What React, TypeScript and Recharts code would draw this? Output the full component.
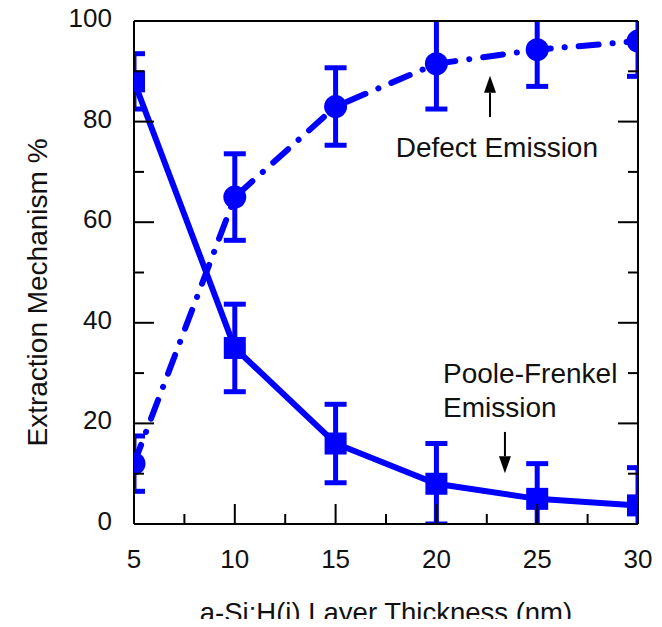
import React from 'react';
import {
  LineChart,
  Line,
  XAxis,
  YAxis,
  ErrorBar,
  ReferenceDot,
  ReferenceLine,
} from 'recharts';

// layer thickness in nm
const thickness = [5, 10, 15, 20, 25, 30];
const pooleFrenkel = [88, 35, 16, 8, 5, 3.7];
const pooleFrenkelErr = [5.5, 8.7, 7.8, 8, 7, 7.5];
const defectEmission = [12, 65, 83, 91.5, 94.3, 96];
const defectEmissionErr = [5.5, 8.6, 7.7, 9, 7.3, 7];

const xTicks = [5, 7.5, 10, 12.5, 15, 17.5, 20, 22.5, 25, 27.5, 30];
const yTicks = [0, 10, 20, 30, 40, 50, 60, 70, 80, 90, 100];

const data = thickness.map((t, i) => ({
  x: t,
  pf: pooleFrenkel[i],
  pfErr: pooleFrenkelErr[i],
  de: defectEmission[i],
  deErr: defectEmissionErr[i],
}));

const BLUE = '#0000ff';
const FONT = '"Liberation Sans", Arial, sans-serif';

// plot box inside the svg (from the margins / axis sizes below)
const PLOT = { x: 134, y: 21, w: 504, h: 503 };
const CLIP = 'url(#plotClip)';

const PlotClipDefs = () => (
  <defs>
    <clipPath id="plotClip">
      <rect x={PLOT.x} y={PLOT.y} width={PLOT.w} height={PLOT.h} />
    </clipPath>
  </defs>
);

const BottomTick = (props: any) => {
  const { x, y, payload } = props;
  const major = payload.value % 5 === 0;
  return (
    <g>
      <line x1={x} x2={x} y1={y} y2={y - (major ? 20 : 10)} stroke="#000" strokeWidth={2} />
      {major && (
        <text x={x} y={y + 44} textAnchor="middle" fontSize={26} fontFamily={FONT} fill="#111">
          {payload.value}
        </text>
      )}
    </g>
  );
};

const TopTick = (props: any) => {
  const { x, y, payload } = props;
  const major = payload.value % 5 === 0;
  return <line x1={x} x2={x} y1={y} y2={y + (major ? 20 : 10)} stroke="#000" strokeWidth={2} />;
};

const LeftTick = (props: any) => {
  const { x, y, payload } = props;
  const major = payload.value % 20 === 0;
  return (
    <g>
      <line x1={x} x2={x + (major ? 20 : 10)} y1={y} y2={y} stroke="#000" strokeWidth={2} />
      {major && (
        <text x={x - 22} y={y + 6} textAnchor="end" fontSize={26} fontFamily={FONT} fill="#111">
          {payload.value}
        </text>
      )}
    </g>
  );
};

const RightTick = (props: any) => {
  const { x, y, payload } = props;
  const major = payload.value % 20 === 0;
  return <line x1={x} x2={x - (major ? 20 : 10)} y1={y} y2={y} stroke="#000" strokeWidth={2} />;
};

const SquareDot = (props: any) => {
  const { cx, cy, index } = props;
  if (cx == null || cy == null) return null;
  return (
    <g key={`sq-${index}`}>
      <rect x={cx - 11} y={cy - 11} width={22} height={22} fill={BLUE} clipPath={CLIP} />
    </g>
  );
};

const CircleDot = (props: any) => {
  const { cx, cy, index } = props;
  if (cx == null || cy == null) return null;
  return (
    <g key={`ci-${index}`}>
      <circle cx={cx} cy={cy} r={11.5} fill={BLUE} clipPath={CLIP} />
    </g>
  );
};

const Arrow = (props: any) => {
  const { x1, y1, x2, y2 } = props;
  const dir = y2 < y1 ? 1 : -1;
  const headLen = 17;
  const half = 6;
  return (
    <g>
      <line x1={x1} y1={y1} x2={x2} y2={y2 + dir * headLen} stroke="#000" strokeWidth={2} />
      <polygon
        points={`${x2},${y2} ${x2 - half},${y2 + dir * headLen} ${x2 + half},${y2 + dir * headLen}`}
        fill="#000"
      />
    </g>
  );
};

const axisLine = { stroke: '#000', strokeWidth: 2 };

export default function App() {
  return (
    <div style={{ fontFamily: FONT, margin: -8 }}>
      <LineChart width={662} height={627} data={data} margin={{ top: 20, right: 23, bottom: 0, left: 0 }}>
        <PlotClipDefs />
        <XAxis
          dataKey="x"
          type="number"
          domain={[5, 30]}
          allowDataOverflow
          ticks={xTicks}
          interval={0}
          tickSize={0}
          tickMargin={0}
          tickLine={false}
          axisLine={axisLine}
          tick={<BottomTick />}
          height={103}
          label={{
            content: (p: any) => {
              const vb = p.viewBox;
              return (
                <text x={vb.x + vb.width / 2} y={vb.y + 98} textAnchor="middle" fontSize={27.5} fontFamily={FONT} fill="#111">
                  a-Si:H(i) Layer Thickness (nm)
                </text>
              );
            },
          }}
        />
        <XAxis
          xAxisId="top"
          orientation="top"
          type="number"
          domain={[5, 30]}
          allowDataOverflow
          ticks={xTicks}
          interval={0}
          tickSize={0}
          tickMargin={0}
          tickLine={false}
          axisLine={axisLine}
          tick={<TopTick />}
          height={1}
        />
        <YAxis
          type="number"
          domain={[0, 100]}
          allowDataOverflow
          ticks={yTicks}
          interval={0}
          tickSize={0}
          tickMargin={0}
          tickLine={false}
          axisLine={axisLine}
          tick={<LeftTick />}
          width={134}
          label={{
            content: (p: any) => {
              const vb = p.viewBox;
              const cx = vb.x + 47;
              const cy = vb.y + vb.height / 2 + 20;
              return (
                <text x={cx} y={cy} transform={`rotate(-90, ${cx}, ${cy})`} textAnchor="middle" fontSize={28} fontFamily={FONT} fill="#111">
                  Extraction Mechanism %
                </text>
              );
            },
          }}
        />
        <YAxis
          yAxisId="right"
          orientation="right"
          type="number"
          domain={[0, 100]}
          allowDataOverflow
          ticks={yTicks}
          interval={0}
          tickSize={0}
          tickMargin={0}
          tickLine={false}
          axisLine={axisLine}
          tick={<RightTick />}
          width={1}
        />
        <Line
          type="linear"
          dataKey="de"
          stroke={BLUE}
          strokeWidth={6}
          strokeDasharray="20 14 0.1 14"
          strokeLinecap="round"
          dot={CircleDot}
          activeDot={false}
          isAnimationActive={false}
        >
          <ErrorBar dataKey="deErr" direction="y" width={11} strokeWidth={5} stroke={BLUE} clipPath={CLIP} />
        </Line>
        <Line
          type="linear"
          dataKey="pf"
          stroke={BLUE}
          strokeWidth={6}
          dot={SquareDot}
          activeDot={false}
          isAnimationActive={false}
        >
          <ErrorBar dataKey="pfErr" direction="y" width={11} strokeWidth={5} stroke={BLUE} clipPath={CLIP} />
        </Line>
        <ReferenceLine segment={[{ x: 22.66, y: 80.9 }, { x: 22.66, y: 89.1 }]} shape={Arrow} />
        <ReferenceLine segment={[{ x: 23.4, y: 18.3 }, { x: 23.4, y: 10.1 }]} shape={Arrow} />
        <ReferenceDot
          x={23}
          y={75}
          r={0}
          fill="none"
          stroke="none"
          label={{ value: 'Defect Emission', position: 'center', fontSize: 28, fill: '#111', fontFamily: FONT }}
        />
        <ReferenceDot
          x={20.33}
          y={30}
          r={0}
          fill="none"
          stroke="none"
          label={{ value: 'Poole-Frenkel', position: 'right', offset: 0, fontSize: 28, fill: '#111', fontFamily: FONT }}
        />
        <ReferenceDot
          x={20.33}
          y={23.3}
          r={0}
          fill="none"
          stroke="none"
          label={{ value: 'Emission', position: 'right', offset: 0, fontSize: 28, fill: '#111', fontFamily: FONT }}
        />
      </LineChart>
    </div>
  );
}
